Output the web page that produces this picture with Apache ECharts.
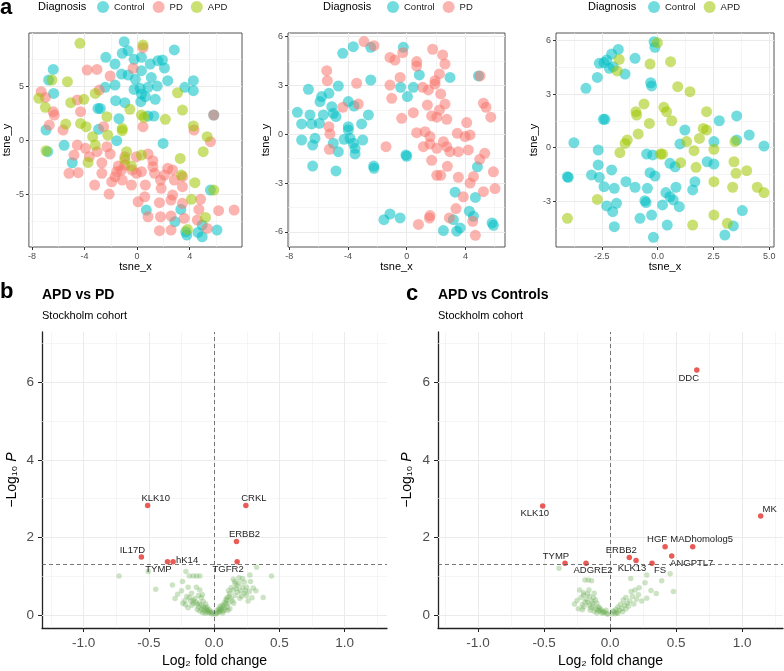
<!DOCTYPE html>
<html><head><meta charset="utf-8">
<script src="https://cdn.jsdelivr.net/npm/echarts@6/dist/echarts.min.js"></script>
<style>html,body{margin:0;padding:0;background:#fff}#c{width:784px;height:671px}</style>
</head><body><div id="c"></div>
<script>
// ---------- DATA ----------
const diagnosisCategories = ['Control', 'PD', 'APD'];
// Panel a-1 (all samples)
const p1Control = [[-0.98,9.17],[-1.13,8.09],[-0.68,8.33],[-2.38,7.72],[-1.68,7.10],[-0.23,7.53],[0.33,7.72],[1.0,7.10],[1.58,7.41],[1.93,7.47],[2.08,6.73],[2.83,8.40],[-1.18,6.17],[-0.68,6.08],[0.33,6.48],[1.08,5.86],[-0.13,5.68],[2.33,5.56],[1.53,5.06],[0.83,4.94],[0.23,4.85],[-0.23,4.75],[0.33,4.32],[0.63,4.07],[1.38,3.83],[0.28,3.61],[-0.93,3.52],[-1.63,3.70],[-2.43,4.94],[-1.68,5.15],[-2.98,2.99],[-2.8,2.99],[0.83,2.28],[1.28,2.28],[3.63,4.94],[4.28,5.56],[4.28,4.63],[-6.38,6.60],[-6.73,5.62],[-6.35,4.38],[-1.38,2.04],[-6.93,0.99],[-2.93,1.05],[-1.55,0.0],[1.98,-0.25],[-5.55,-0.43],[-6.8,-1.02],[-4.93,-2.04],[5.58,-4.57],[0.7,-6.42],[3.33,-6.36],[2.88,-7.5],[3.7,-8.43],[3.78,-8.73],[4.63,-8.49],[4.95,-8.89],[6.08,-8.27],[4.95,-7.81],[5.83,2.38]];
const p1PD = [[0.45,8.61],[-3.8,6.54],[-3.05,6.60],[-2.05,5.99],[-0.3,6.70],[-7.3,4.54],[-6.98,4.01],[-6.38,2.69],[-6.3,2.38],[-6.68,1.45],[-5.63,0.99],[-4.55,3.77],[-4.3,2.69],[-2.88,4.69],[-2.55,1.30],[0.45,1.30],[4.33,0.99],[5.58,-0.09],[5.83,2.38],[-4.55,-0.40],[-4.8,-1.33],[-3.93,-0.71],[-3.63,-1.48],[-3.05,-1.02],[-2.68,-2.04],[-2.3,-0.56],[-2.05,-1.23],[-1.43,-2.35],[-0.93,-1.48],[-0.05,-1.48],[0.83,-1.23],[1.2,-1.85],[0.33,-2.87],[-0.38,-2.72],[-1.18,-2.72],[-1.68,-3.33],[-1.93,-3.80],[-1.13,-3.64],[-0.43,-4.1],[0.63,-4.1],[1.78,-3.64],[1.33,-3.02],[2.08,-3.18],[2.7,-2.72],[3.45,-3.33],[2.83,-3.64],[1.83,-4.41],[2.7,-5.03],[3.45,-4.26],[-3.23,-4.1],[-2.13,-4.94],[-5.18,-3.02],[-4.48,-2.96],[0.08,-5.65],[1.7,-5.74],[0.83,-7.04],[1.78,-7.04],[2.58,-6.98],[3.58,-7.19],[4.7,-6.36],[4.58,-7.35],[5.33,-8.12],[6.2,-6.48],[7.38,-6.42],[1.7,-8.33],[2.58,-8.27],[-2.68,-3.02],[-0.93,-2.25],[1.2,-2.41],[2.33,-2.56],[-0.05,-3.02],[-1.55,-2.87],[0.58,-5.19],[2.58,-5.49],[3.45,-5.8],[4.83,-5.43]];
const p1APD = [[-4.35,9.01],[0.45,8.86],[-6.48,5.62],[-5.3,5.46],[-7.48,3.92],[-6.98,3.09],[-5.05,3.52],[-4.05,3.83],[-3.18,4.38],[-2.3,2.22],[-0.55,2.9],[-5.43,1.54],[-4.3,1.60],[-3.88,1.30],[-3.38,0.37],[-2.23,0.52],[-1.13,1.14],[-1.13,0.93],[0.33,2.38],[0.53,2.16],[2.15,1.98],[3.45,2.84],[3.08,4.44],[4.28,1.36],[5.33,0.37],[5.03,-1.02],[-6.93,-0.93],[-3.18,-0.40],[-3.73,-2.01],[-0.8,-1.02],[-0.93,-1.73],[-0.43,-2.35],[0.33,-1.33],[3.28,-1.64],[3.38,-3.18],[4.4,-3.89],[4.13,-5.43],[5.83,-4.57],[5.2,-7.1],[3.83,-8.21]];
// Panel a-2 (Control vs PD)
const p2Control = [[-7.45,1.35],[-7.16,0.64],[-7.16,-0.35],[-6.7,2.77],[-6.59,1.19],[-6.48,0.64],[-6.41,-0.66],[-6.25,-0.25],[-5.91,2.01],[-5.8,2.32],[-5.95,0.68],[-5.68,1.19],[-5.3,2.52],[-5.11,1.70],[-5.0,1.29],[-4.82,1.09],[-4.66,2.97],[-4.66,-1.07],[-5.0,-0.55],[-4.36,4.98],[-3.98,2.01],[-3.98,0.47],[-3.98,0.27],[-4.27,-0.31],[-3.86,-0.25],[-3.64,5.39],[-3.59,1.74],[-3.64,-0.55],[-3.52,-0.86],[-3.52,-1.21],[-3.07,0.64],[-3.0,-0.35],[-2.61,1.19],[-2.45,3.34],[-2.45,5.35],[-0.23,5.35],[-0.41,2.89],[0.05,2.32],[0.45,2.89],[0.86,3.65],[2.95,3.50],[4.89,3.59],[-6.41,-1.95],[-4.82,-2.25],[-2.23,-2.09],[-2.25,-1.95],[-0.05,-1.27],[0.0,-1.35],[-1.55,-5.25],[-1.14,-4.9],[-0.45,-5.14],[2.5,-5.92],[3.3,-3.56],[3.18,-5.25],[3.64,-5.76],[3.41,-5.96],[4.27,-4.73],[4.55,-5.04],[4.68,-3.88],[4.82,-2.0],[5.91,-5.6],[5.82,-5.45]];
const p2PD = [[-2.91,5.7],[-2.23,5.45],[-5.45,3.91],[-5.41,3.30],[-3.41,3.14],[-4.36,1.66],[-3.3,1.86],[-5.3,0.47],[-5.23,0.02],[-5.27,-0.92],[-1.14,4.73],[-0.8,4.57],[-0.27,5.02],[-1.14,3.03],[-1.02,2.21],[-0.45,3.50],[0.68,4.47],[0.68,4.2],[1.77,5.23],[2.45,4.88],[2.61,4.32],[2.23,3.71],[1.93,3.30],[1.93,3.09],[1.09,2.89],[1.48,2.73],[2.32,2.48],[1.41,1.80],[2.61,1.86],[-0.34,0.98],[0.45,1.33],[1.7,1.13],[2.05,1.05],[2.23,1.50],[2.73,0.92],[4.09,0.72],[0.68,0.10],[1.25,0.16],[1.59,-0.14],[1.59,-0.59],[1.14,-0.76],[2.05,-0.86],[2.5,-0.45],[2.73,-0.76],[2.95,-1.07],[3.52,-1.07],[3.45,0.06],[3.98,-0.14],[4.32,-0.04],[4.2,-0.96],[4.98,-1.54],[5.32,-1.17],[5.23,1.91],[5.41,1.66],[5.73,1.05],[5.0,3.59],[-1.41,-0.76],[1.7,-1.6],[2.05,-2.52],[2.32,-2.52],[2.77,-1.97],[3.52,-2.64],[4.32,-3.0],[4.55,-2.6],[3.86,-3.84],[5.23,-3.53],[5.91,-2.31],[6.02,-3.34],[1.59,-5.0],[1.55,-5.15],[0.8,-5.54],[2.91,-5.14],[3.36,-4.57],[4.5,-5.35],[4.68,-6.21]];
// Panel a-3 (Control vs APD)
const p3Control = [[-0.16,5.94],[-0.12,5.63],[-1.76,5.51],[-2.06,5.25],[-2.28,4.92],[-2.61,4.73],[-2.4,4.77],[-2.16,4.45],[-1.99,4.54],[-1.01,5.01],[-1.46,4.13],[-2.7,3.94],[-3.21,3.33],[-0.31,3.64],[-0.27,3.46],[-2.43,1.59],[-2.36,1.59],[-3.75,0.28],[-2.66,-0.13],[-2.66,-0.97],[-2.96,-1.53],[-2.61,-1.66],[-2.06,-1.25],[-2.4,-2.19],[-1.94,-2.28],[-4.04,-1.63],[-4.0,-1.66],[-1.42,-1.91],[-1.01,-2.22],[-0.49,-0.36],[-0.22,-0.41],[-0.34,-1.40],[-0.12,-1.59],[-0.46,-2.28],[0.55,-0.88],[0.78,-1.07],[1.22,0.99],[1.0,0.21],[1.67,-1.91],[1.57,-2.37],[0.82,-2.22],[0.37,-2.52],[0.55,-2.75],[0.7,-2.93],[0.97,-3.31],[0.22,-3.21],[-0.57,-2.97],[-0.52,-3.08],[-2.28,-3.27],[-1.84,-3.12],[-2.01,-3.59],[-0.79,-3.96],[-0.27,-3.78],[0.43,-4.34],[-1.94,-4.43],[-0.19,-5.03],[2.22,-0.79],[2.52,-0.92],[2.52,0.34],[2.76,1.51],[3.54,1.78],[3.54,0.43],[4.1,0.71],[4.76,0.09],[3.79,-3.53],[3.01,-4.9],[3.39,-4.39]];
const p3APD = [[-0.01,5.89],[-1.72,4.95],[-1.81,4.3],[-0.34,4.69],[0.58,4.82],[0.9,3.42],[1.45,3.14],[-0.61,2.45],[-0.97,2.02],[-0.94,1.83],[0.28,2.26],[0.40,2.02],[0.63,1.51],[-0.37,1.36],[-0.87,0.77],[-1.36,0.43],[-1.46,0.24],[-1.69,-0.28],[0.13,-0.36],[0.22,-0.36],[1.03,-0.84],[1.3,0.34],[1.63,-0.17],[1.72,-1.10],[1.87,0.52],[2.04,1.08],[2.19,0.99],[2.19,2.02],[2.52,-0.09],[2.52,-1.91],[3.46,0.34],[3.42,-0.79],[3.51,-1.44],[3.99,-1.29],[3.36,-2.22],[4.46,-2.22],[4.76,-2.52],[-2.7,-2.9],[-4.04,-3.96],[2.52,-3.78],[1.57,-4.34],[3.12,-4.24]];
// tick labels
const p1XTicks = [-8,-4,0,4,8], p1YTicks = [-5,0,5];
const p2XTicks = [-8,-4,0,4], p2YTicks = [-6,-3,0,3,6];
const p3XTicks = [-2.5,0,2.5,5], p3YTicks = [-3,0,3,6];
const volXTicks = [-1,-0.5,0,0.5,1], volYTicks = [0,2,4,6];
// Panel b: APD vs PD
const bSigNames = ['KLK10','CRKL','ERBB2','IL17D','TYMP','hK14','TGFR2'];
const bSigLogFC = [-0.51,0.243,0.171,-0.558,-0.358,-0.315,0.176];
const bSigLogP = [2.82,2.82,1.89,1.49,1.37,1.37,1.37];
const bNsPoints = [[-0.729,1.0],[-0.506,1.12],[-0.448,0.66],[-0.217,1.12],[-0.19,1.0],[-0.16,1.0],[-0.135,1.0],[-0.11,1.0],[-0.243,0.86],[-0.2,0.71],[-0.136,0.71],[-0.11,0.64],[-0.174,0.56],[-0.09,0.52],[-0.225,0.37],[-0.161,0.37],[-0.115,0.30],[-0.084,0.21],[-0.059,0.15],[-0.033,0.09],[-0.008,0.03],[-0.25,0.62],[-0.21,0.47],[-0.19,0.45],[-0.15,0.42],[-0.14,0.33],[-0.13,0.27],[-0.12,0.2],[-0.1,0.25],[-0.095,0.15],[-0.08,0.12],[-0.07,0.18],[-0.06,0.08],[-0.05,0.11],[-0.045,0.05],[-0.04,0.14],[-0.03,0.06],[-0.02,0.03],[-0.015,0.07],[-0.17,0.25],[-0.16,0.3],[-0.18,0.36],[-0.12,0.5],[-0.1,0.44],[-0.28,0.53],[-0.3,0.42],[-0.32,0.77],[-0.22,0.26],[-0.085,0.35],[-0.065,0.28],[-0.055,0.2],[-0.11,0.1],[-0.09,0.06],[-0.07,0.04],[-0.2,0.18],[-0.13,0.14],[-0.24,0.3],[0.018,0.04],[0.043,0.13],[0.069,0.26],[0.095,0.37],[0.115,0.47],[0.146,0.64],[0.159,0.86],[0.176,0.75],[0.217,0.71],[0.248,0.71],[0.279,0.86],[0.325,1.23],[0.274,1.03],[0.44,1.0],[0.376,0.45],[0.299,0.69],[0.248,0.49],[0.197,0.43],[0.217,0.94],[0.146,0.92],[0.16,0.8],[0.19,0.82],[0.2,0.62],[0.23,0.56],[0.12,0.55],[0.13,0.42],[0.11,0.3],[0.1,0.2],[0.09,0.28],[0.08,0.32],[0.075,0.18],[0.06,0.22],[0.05,0.1],[0.055,0.16],[0.04,0.08],[0.03,0.06],[0.025,0.12],[0.012,0.02],[0.07,0.09],[0.085,0.14],[0.1,0.45],[0.14,0.36],[0.16,0.5],[0.18,0.58],[0.21,0.48],[0.26,0.36],[0.32,0.62],[0.29,0.44],[0.13,0.7],[0.15,0.3],[0.12,0.16],[0.105,0.11],[0.065,0.05],[0.035,0.15],[0.045,0.22],[0.17,0.68],[0.24,0.62],[0.19,0.96],[0.23,0.85],[0.27,0.6],[0.09,0.4],[0.11,0.62]];
// Panel c: APD vs Controls
const cSigNames = ['DDC','KLK10','MK','HGF','MADhomolog5','ANGPTL7','ERBB2','KLK13','FS','ADGRE2','TYMP'];
const cSigLogFC = [0.657,-0.51,1.141,0.417,0.626,0.467,0.146,0.197,0.318,-0.182,-0.341];
const cSigLogP = [6.32,2.81,2.55,1.76,1.76,1.52,1.48,1.40,1.33,1.33,1.33];
const cNsPoints = [[-0.386,1.2],[-0.19,0.9],[-0.165,0.9],[-0.14,0.88],[-0.23,0.64],[-0.2,0.51],[-0.16,0.64],[-0.155,0.47],[-0.12,0.56],[-0.25,0.37],[-0.21,0.26],[-0.17,0.32],[-0.13,0.22],[-0.11,0.16],[-0.08,0.09],[-0.05,0.06],[-0.025,0.03],[-0.22,0.45],[-0.18,0.4],[-0.14,0.36],[-0.1,0.3],[-0.09,0.2],[-0.07,0.14],[-0.06,0.1],[-0.04,0.07],[-0.03,0.12],[-0.2,0.2],[-0.24,0.16],[-0.15,0.12],[-0.12,0.09],[-0.1,0.05],[-0.19,0.33],[-0.16,0.25],[-0.13,0.3],[-0.27,0.28],[-0.08,0.18],[-0.11,0.38],[-0.17,0.54],[-0.2,0.57],[-0.06,0.04],[-0.015,0.02],[-0.09,0.12],[-0.145,0.18],[-0.21,0.13],[-0.125,0.44],[0.157,0.94],[0.278,1.03],[0.391,0.88],[0.455,1.06],[0.48,0.6],[0.31,0.63],[0.265,0.83],[0.189,0.64],[0.215,0.52],[0.278,0.43],[0.12,0.45],[0.1,0.38],[0.08,0.27],[0.06,0.2],[0.045,0.14],[0.03,0.08],[0.015,0.03],[0.07,0.12],[0.09,0.16],[0.11,0.25],[0.13,0.3],[0.15,0.36],[0.17,0.48],[0.2,0.4],[0.24,0.36],[0.05,0.06],[0.025,0.1],[0.14,0.22],[0.16,0.6],[0.22,0.7],[0.35,0.55],[0.095,0.08],[0.04,0.03],[0.12,0.15],[0.18,0.28],[0.06,0.04]];
const pThreshold = 1.30103; // -log10(0.05)

// ---------- STYLE ----------
const FONT = '"Liberation Sans", Arial, sans-serif';
const COLORS = { Control: '#00BFC4', PD: '#F8766D', APD: '#9EC700' };
const bLabelOffset = { KLK10:[8,-7], CRKL:[8,-7], ERBB2:[8,-7], IL17D:[-9,-7], TYMP:[-9,8], hK14:[14,-1], TGFR2:[-9,8] };
const cLabelOffset = { DDC:[-8,8], KLK10:[-8,7], MK:[9,-7], HGF:[-8,-7], MADhomolog5:[9,-7], ANGPTL7:[20,7], ERBB2:[-8,-7], KLK13:[-4,8], FS:[8,7], ADGRE2:[7,7], TYMP:[-9,-7] };

const grids = [
  {left:26, top:33, width:216, height:214, show:true, borderColor:'#555', borderWidth:1, backgroundColor:'#fff'},
  {left:288, top:33, width:217, height:214, show:true, borderColor:'#555', borderWidth:1, backgroundColor:'#fff'},
  {left:556, top:33, width:218, height:214, show:true, borderColor:'#555', borderWidth:1, backgroundColor:'#fff'},
  {left:42, top:332, width:345, height:296},
  {left:438, top:332, width:345, height:296}
];

function mids(arr){ const r=[]; for(let i=0;i<arr.length-1;i++) r.push((arr[i]+arr[i+1])/2); return r; }

function topX(gi, min, max, ticks, fmt){
  return {gridIndex:gi, type:'value', min, max,
    axisLine:{show:false, onZero:false},
    axisTick:{show:true, customValues:ticks, length:3, lineStyle:{color:'#333', width:1}},
    axisLabel:{customValues:ticks, fontSize:9, color:'#4d4d4d', margin:5, fontFamily:FONT, formatter:fmt},
    splitLine:{show:false},
    name:'tsne_x', nameLocation:'middle', nameGap:13, nameTextStyle:{fontSize:11, color:'#000', fontFamily:FONT}};
}
function topY(gi, min, max, ticks, gap){
  return {gridIndex:gi, type:'value', min, max,
    axisLine:{show:false, onZero:false},
    axisTick:{show:true, customValues:ticks, length:3, lineStyle:{color:'#333', width:1}},
    axisLabel:{customValues:ticks, fontSize:9, color:'#4d4d4d', margin:5, fontFamily:FONT},
    splitLine:{show:false},
    name:'tsne_y', nameLocation:'middle', nameRotate:90, nameGap:gap, nameTextStyle:{fontSize:11, color:'#000', fontFamily:FONT}};
}
function volX(gi, min, max){
  return {gridIndex:gi, type:'value', min, max,
    axisLine:{show:true, onZero:false, lineStyle:{color:'#222', width:1.3}},
    axisTick:{show:true, customValues:volXTicks, length:4, lineStyle:{color:'#222', width:1}},
    axisLabel:{customValues:volXTicks, fontSize:13.5, color:'#4d4d4d', margin:8, fontFamily:FONT, formatter:v=>Number(v).toFixed(1)},
    splitLine:{show:false},
    name:'Log₂ fold change', nameLocation:'middle', nameGap:26, nameTextStyle:{fontSize:14, color:'#000', fontFamily:FONT}};
}
function volY(gi, gap){
  return {gridIndex:gi, type:'value', min:-0.34, max:7.3,
    axisLine:{show:true, onZero:false, lineStyle:{color:'#222', width:1.3}},
    axisTick:{show:true, customValues:volYTicks, length:4, lineStyle:{color:'#222', width:1}},
    axisLabel:{customValues:volYTicks, fontSize:13.5, color:'#4d4d4d', margin:8, fontFamily:FONT},
    splitLine:{show:false},
    name:'−Log₁₀ {i|P}', nameLocation:'middle', nameRotate:90, nameGap:gap,
    nameTextStyle:{fontSize:14, color:'#000', fontFamily:FONT, rich:{i:{fontStyle:'italic', fontSize:14, fontFamily:FONT}}}};
}

function gridLineSeries(gi, xMajor, yMajor, xMinor, yMinor){
  const d = [];
  xMinor.forEach(v=>d.push({xAxis:v, lineStyle:{color:'#efefef', width:0.6, type:'solid'}}));
  yMinor.forEach(v=>d.push({yAxis:v, lineStyle:{color:'#efefef', width:0.6, type:'solid'}}));
  xMajor.forEach(v=>d.push({xAxis:v, lineStyle:{color:'#ebebeb', width:1, type:'solid'}}));
  yMajor.forEach(v=>d.push({yAxis:v, lineStyle:{color:'#ebebeb', width:1, type:'solid'}}));
  return {type:'scatter', xAxisIndex:gi, yAxisIndex:gi, data:[], silent:true, z:1,
    markLine:{silent:true, z:1, symbol:['none','none'], label:{show:false}, emphasis:{disabled:true}, animation:false, data:d}};
}
function refLineSeries(gi){
  return {type:'scatter', xAxisIndex:gi, yAxisIndex:gi, data:[], silent:true, z:4,
    markLine:{silent:true, z:4, symbol:['none','none'], label:{show:false}, emphasis:{disabled:true}, animation:false,
      lineStyle:{color:'#555', width:0.8, type:[4,3]},
      data:[{xAxis:0},{yAxis:pThreshold}]}};
}
function tsneSeries(name, gi, pts){
  return {type:'scatter', name, xAxisIndex:gi, yAxisIndex:gi, data:pts, symbolSize:11, z:2,
    itemStyle:{color:COLORS[name], opacity:0.55}, emphasis:{disabled:true}};
}
function nsSeries(gi, pts){
  return {type:'scatter', xAxisIndex:gi, yAxisIndex:gi, data:pts, symbolSize:5.5, z:2, silent:true,
    itemStyle:{color:'rgba(105,172,80,0.42)'}, emphasis:{disabled:true}};
}
function sigSeries(gi, names, xs, ys, offs){
  return {type:'scatter', xAxisIndex:gi, yAxisIndex:gi, z:3, symbolSize:5.5, silent:true,
    itemStyle:{color:'#e8524d', opacity:0.95}, emphasis:{disabled:true},
    data: names.map((n,i)=>({name:n, value:[xs[i], ys[i]],
      label:{show:true, formatter:'{b}', position:'inside', offset:offs[n], fontSize:9.5, color:'#111', fontFamily:FONT}}))};
}

function legendCfg(names, left){
  return {data:names, left, top:1, padding:0, icon:'circle', itemWidth:12, itemHeight:12, itemGap:8,
    selectedMode:false, textStyle:{fontSize:9.5, color:'#1a1a1a', fontFamily:FONT}};
}

function txt(x, y, text, size, weight, align){
  return {type:'text', x, y, silent:true, style:{text, fontSize:size, fontWeight:weight||'normal', fontFamily:FONT, fill:'#000', align:align||'left', verticalAlign:'middle'}};
}

const option = {
  animation:false,
  backgroundColor:'#fff',
  grid:grids,
  legend:[ legendCfg(['Control','PD','APD'], 97), legendCfg(['Control','PD'], 387), legendCfg(['Control','APD'], 648) ],
  xAxis:[ topX(0,-8.23,7.98,p1XTicks), topX(1,-8.09,6.70,p2XTicks), topX(2,-4.55,5.21,p3XTicks,v=>Number(v).toFixed(1)),
          volX(3,-1.32,1.325), volX(4,-1.303,1.31) ],
  yAxis:[ topY(0,-9.84,9.97,p1YTicks,12), topY(1,-6.93,6.23,p2YTicks,13), topY(2,-5.57,6.43,p3YTicks,13),
          volY(3,23), volY(4,24) ],
  series:[
    gridLineSeries(0,p1XTicks,p1YTicks,mids(p1XTicks),[-7.5,-2.5,2.5,7.5]),
    gridLineSeries(1,p2XTicks,p2YTicks,mids(p2XTicks).concat([6]),mids(p2YTicks)),
    gridLineSeries(2,p3XTicks,p3YTicks,[-3.75].concat(mids(p3XTicks)),[-4.5].concat(mids(p3YTicks))),
    gridLineSeries(3,volXTicks,volYTicks,[-1.25].concat(mids(volXTicks),[1.25]),[1,3,5,7]),
    gridLineSeries(4,volXTicks,volYTicks,[-1.25].concat(mids(volXTicks),[1.25]),[1,3,5,7]),
    tsneSeries('Control',0,p1Control), tsneSeries('PD',0,p1PD), tsneSeries('APD',0,p1APD),
    tsneSeries('Control',1,p2Control), tsneSeries('PD',1,p2PD),
    tsneSeries('Control',2,p3Control), tsneSeries('APD',2,p3APD),
    nsSeries(3,bNsPoints), sigSeries(3,bSigNames,bSigLogFC,bSigLogP,bLabelOffset), refLineSeries(3),
    nsSeries(4,cNsPoints), sigSeries(4,cSigNames,cSigLogFC,cSigLogP,cLabelOffset), refLineSeries(4)
  ],
  graphic:[
    txt(0, 8, 'a', 22, 'bold'),
    txt(0, 292, 'b', 22, 'bold'),
    txt(406, 294, 'c', 22, 'bold'),
    txt(38, 7, 'Diagnosis', 11),
    txt(323, 7, 'Diagnosis', 11),
    txt(588, 7, 'Diagnosis', 11),
    txt(42, 295, 'APD vs PD', 14, 'bold'),
    txt(42, 316, 'Stockholm cohort', 11),
    txt(438, 295, 'APD vs Controls', 14, 'bold'),
    txt(438, 316, 'Stockholm cohort', 11)
  ]
};
const chart = echarts.init(document.getElementById('c'), null, {renderer:'canvas'});
chart.setOption(option);
</script></body></html>
